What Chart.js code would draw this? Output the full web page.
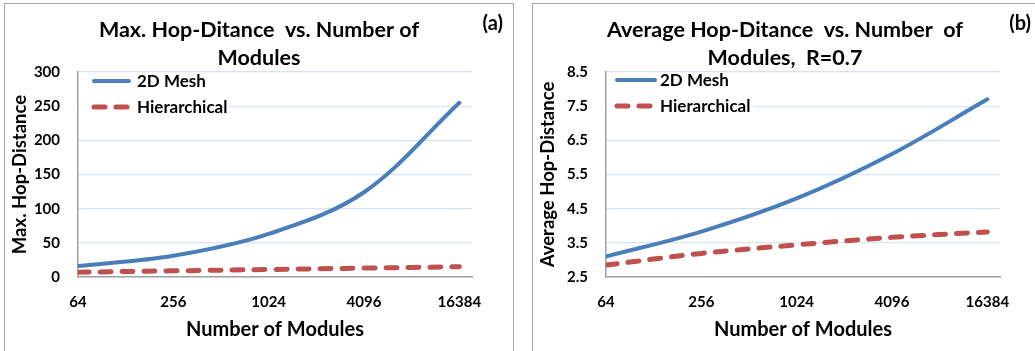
<!DOCTYPE html>
<html>
<head>
<meta charset="utf-8">
<script src="https://cdn.jsdelivr.net/npm/chart.js@4.4.1/dist/chart.umd.min.js"></script>
<style>
  html, body { margin: 0; padding: 0; background: #fff; width: 1035px; height: 351px; overflow: hidden; }
  .panel { position: absolute; top: 3px; border: 1px solid #a9a9a9; background: #fff; }
  #panelA { left: 4px; width: 508px; height: 360px; }
  #panelB { left: 532px; width: 504px; height: 360px; }
  canvas { display: block; }
</style>
</head>
<body>
<div class="panel" id="panelA"><canvas id="chartA" width="508" height="347"></canvas></div>
<div class="panel" id="panelB"><canvas id="chartB" width="504" height="347"></canvas></div>
<script>
// Network sizes (number of modules) and the tick labels on the x axis
const modules = [64, 256, 1024, 4096, 16384];
const xTickLabels = ['64', '256', '1024', '4096', '16384'];

// (a) maximum hop distance
const maxHopMesh = [16, 31, 63, 124, 255];
const maxHopHier = [7, 9, 11, 13, 15];

// (b) average hop distance, R = 0.7
const avgHopMesh = [3.1, 3.83, 4.8, 6.1, 7.7];
const avgHopHier = [2.85, 3.19, 3.44, 3.66, 3.82];

const seriesNames = ['2D Mesh', 'Hierarchical'];
const FONT = 'Lato, "Open Sans", sans-serif';
const BLUE = '#4a7ebb';
const RED = '#c0504d';

function points(ys) {
  return modules.map((m, i) => ({ x: m, y: ys[i] }));
}

function datasets(meshVals, hierVals) {
  return [
    {
      label: seriesNames[0], data: points(meshVals),
      borderColor: BLUE, backgroundColor: BLUE, borderWidth: 4,
      borderCapStyle: 'round', pointRadius: 0, tension: 0.35, fill: false
    },
    {
      label: seriesNames[1], data: points(hierVals),
      borderColor: RED, backgroundColor: RED, borderWidth: 5,
      borderDash: [11, 11], borderCapStyle: 'round', pointRadius: 0, tension: 0.35, fill: false
    }
  ];
}

// Title, panel tag and in-plot legend
const panelDecor = {
  id: 'panelDecor',
  beforeDatasetsDraw(chart, args, o) {
    const ctx = chart.ctx;
    ctx.save();
    ctx.fillStyle = '#fff';
    ctx.fillRect(chart.chartArea.left + 1, o.boxTop, o.boxRight - chart.chartArea.left - 1, o.boxBottom - o.boxTop);
    ctx.font = 'bold 17px ' + FONT;
    ctx.textBaseline = 'middle';
    ctx.textAlign = 'left';
    chart.data.datasets.forEach((ds, i) => {
      const y = o.legendY[i];
      ctx.strokeStyle = ds.borderColor;
      ctx.lineWidth = ds.borderWidth;
      ctx.lineCap = 'round';
      ctx.setLineDash(ds.borderDash || []);
      ctx.beginPath();
      ctx.moveTo(o.sampleX0 + 2, y);
      ctx.lineTo(o.sampleX1 - 2, y);
      ctx.stroke();
      ctx.setLineDash([]);
      ctx.fillStyle = '#000';
      ctx.fillText(ds.label, o.textX, y + 1);
    });
    ctx.restore();
  },
  afterDraw(chart, args, o) {
    const ctx = chart.ctx;
    ctx.save();
    ctx.fillStyle = '#000';
    ctx.textBaseline = 'middle';
    ctx.textAlign = 'center';
    ctx.font = 'bold 21.5px ' + FONT;
    const cx = chart.width / 2;
    o.title.forEach((line, i) => ctx.fillText(line, cx, 26 + i * 28.5));
    ctx.textAlign = 'right';
    ctx.font = 'bold 20px ' + FONT;
    ctx.fillText(o.tag, 498, 20);
    ctx.restore();
  }
};

function makeChart(id, opts) {
  return new Chart(document.getElementById(id), {
    type: 'line',
    data: { datasets: datasets(opts.mesh, opts.hier) },
    plugins: [panelDecor],
    options: {
      responsive: false,
      animation: false,
      events: [],
      layout: { padding: { left: 0, right: opts.padRight, top: 68, bottom: 0 } },
      plugins: {
        legend: { display: false },
        title: { display: false },
        tooltip: { enabled: false },
        panelDecor: opts.decor
      },
      scales: {
        x: {
          type: 'logarithmic',
          min: 64, max: 19700,
          afterBuildTicks(scale) { scale.ticks = modules.map(v => ({ value: v })); },
          afterFit(scale) { scale.height = 74; },
          grid: { display: false, drawTicks: false },
          border: { display: true, color: '#a0a0a0', width: 1.5 },
          ticks: {
            autoSkip: false, maxRotation: 0, padding: 16, color: '#000',
            font: { family: FONT, size: 15, weight: 'bold' },
            callback(value) { const i = modules.indexOf(value); return i >= 0 ? xTickLabels[i] : ''; }
          },
          title: {
            display: true, text: 'Number of Modules', color: '#000',
            font: { family: FONT, size: 20, weight: 'bold', lineHeight: 1.2 },
            padding: { top: 0, bottom: 9 }
          }
        },
        y: {
          min: opts.yMin, max: opts.yMax,
          afterFit(scale) { scale.width = 73; },
          grid: { color: '#d9e2ef', lineWidth: 1.2, drawTicks: false },
          border: { display: true, color: '#a0a0a0', width: 1.5 },
          ticks: {
            stepSize: opts.yStep, padding: 18, color: '#000',
            font: { family: FONT, size: 15, weight: 'bold' },
            callback: opts.yFmt
          },
          title: {
            display: true, text: opts.yTitle, color: '#000',
            font: { family: FONT, size: 18.5, weight: 'bold', lineHeight: 1.2 },
            padding: { top: 4, bottom: 0 }
          }
        }
      }
    }
  });
}

makeChart('chartA', {
  mesh: maxHopMesh, hier: maxHopHier,
  yMin: 0, yMax: 300, yStep: 50,
  yFmt: v => String(v),
  yTitle: 'Max. Hop-Distance',
  padRight: 41,
  decor: {
    title: ['Max. Hop-Ditance  vs. Number of', 'Modules'],
    tag: '(a)',
    boxTop: 70, boxBottom: 116, boxRight: 223,
    sampleX0: 87, sampleX1: 126, textX: 132, legendY: [77, 103]
  }
});

makeChart('chartB', {
  mesh: avgHopMesh, hier: avgHopHier,
  yMin: 2.5, yMax: 8.5, yStep: 1,
  yFmt: v => Number(v).toFixed(1),
  yTitle: 'Average Hop-Distance',
  padRight: 37,
  decor: {
    title: ['Average Hop-Ditance  vs. Number  of', 'Modules,  R=0.7'],
    tag: '(b)',
    boxTop: 70, boxBottom: 116, boxRight: 220,
    sampleX0: 82, sampleX1: 124, textX: 127, legendY: [76, 102]
  }
});
</script>
</body>
</html>
